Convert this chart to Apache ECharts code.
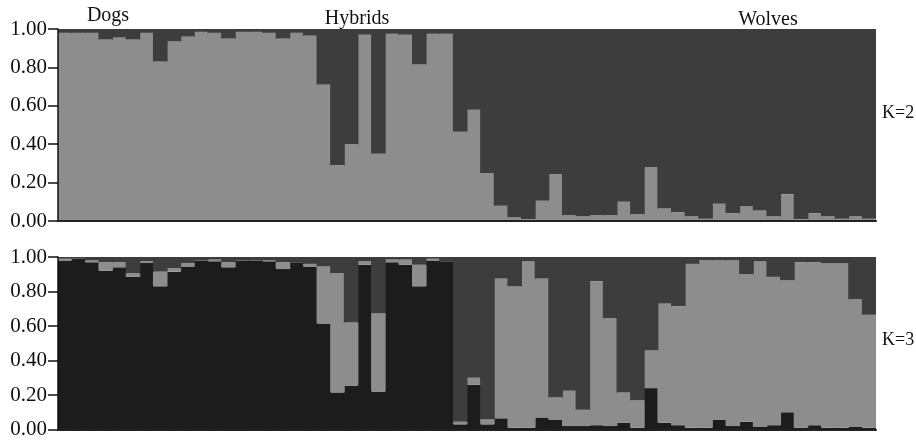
<!DOCTYPE html>
<html>
<head>
<meta charset="utf-8">
<script src="https://cdn.jsdelivr.net/npm/echarts@6/dist/echarts.min.js"></script>
<style>
  html, body { margin: 0; padding: 0; background: #fff; }
  #chart { width: 916px; height: 440px; }
</style>
</head>
<body>
<div id="chart"></div>
<script>
// individuals, left to right (dogs, hybrids, wolves)
const individuals = Array.from({ length: 60 }, (_, i) => 'ind' + (i + 1))

// K=2 : dog cluster (light grey, bottom) and wolf cluster (dark grey, top)
const k2Dog = [
  0.98, 0.98, 0.98, 0.945, 0.955, 0.945, 0.98, 0.83, 0.935, 0.96,
  0.985, 0.98, 0.95, 0.985, 0.985, 0.98, 0.95, 0.98, 0.965, 0.71,
  0.29, 0.40, 0.97, 0.35, 0.975, 0.97, 0.815, 0.975, 0.975, 0.465,
  0.58, 0.25, 0.08, 0.02, 0.01, 0.105, 0.245, 0.03, 0.025, 0.03,
  0.03, 0.10, 0.035, 0.28, 0.065, 0.045, 0.025, 0.012, 0.09, 0.04,
  0.075, 0.055, 0.025, 0.14, 0.01, 0.04, 0.025, 0.012, 0.025, 0.012
]
const k2Wolf = [
  0.02, 0.02, 0.02, 0.055, 0.045, 0.055, 0.02, 0.17, 0.065, 0.04,
  0.015, 0.02, 0.05, 0.015, 0.015, 0.02, 0.05, 0.02, 0.035, 0.29,
  0.71, 0.60, 0.03, 0.65, 0.025, 0.03, 0.185, 0.025, 0.025, 0.535,
  0.42, 0.75, 0.92, 0.98, 0.99, 0.895, 0.755, 0.97, 0.975, 0.97,
  0.97, 0.90, 0.965, 0.72, 0.935, 0.955, 0.975, 0.988, 0.91, 0.96,
  0.925, 0.945, 0.975, 0.86, 0.99, 0.96, 0.975, 0.988, 0.975, 0.988
]

// K=3 : cluster 1 (black, bottom), cluster 2 (light grey), cluster 3 (dark grey, top)
const k3Black = [
  0.98, 0.99, 0.97, 0.92, 0.94, 0.885, 0.965, 0.83, 0.915, 0.945,
  0.98, 0.975, 0.94, 0.98, 0.98, 0.975, 0.93, 0.97, 0.945, 0.615,
  0.215, 0.255, 0.955, 0.22, 0.97, 0.955, 0.83, 0.98, 0.975, 0.03,
  0.26, 0.03, 0.065, 0.01, 0.01, 0.07, 0.055, 0.02, 0.02, 0.025,
  0.02, 0.04, 0.01, 0.24, 0.04, 0.025, 0.01, 0.01, 0.055, 0.02,
  0.045, 0.015, 0.025, 0.10, 0.01, 0.025, 0.01, 0.01, 0.015, 0.01
]
const k3Light = [
  0.01, 0.00, 0.01, 0.05, 0.03, 0.02, 0.01, 0.085, 0.02, 0.02,
  0.00, 0.01, 0.03, 0.00, 0.00, 0.005, 0.04, 0.00, 0.015, 0.33,
  0.69, 0.365, 0.02, 0.455, 0.015, 0.03, 0.125, 0.01, 0.00, 0.015,
  0.04, 0.03, 0.81, 0.82, 0.965, 0.805, 0.13, 0.205, 0.095, 0.835,
  0.625, 0.175, 0.16, 0.22, 0.69, 0.69, 0.95, 0.97, 0.925, 0.96,
  0.855, 0.96, 0.86, 0.765, 0.96, 0.945, 0.955, 0.955, 0.74, 0.655
]
const k3Dark = [
  0.01, 0.01, 0.02, 0.03, 0.03, 0.095, 0.025, 0.085, 0.065, 0.035,
  0.02, 0.015, 0.03, 0.02, 0.02, 0.02, 0.03, 0.03, 0.04, 0.055,
  0.095, 0.38, 0.025, 0.325, 0.015, 0.015, 0.045, 0.01, 0.025, 0.955,
  0.70, 0.94, 0.125, 0.17, 0.025, 0.125, 0.815, 0.775, 0.885, 0.14,
  0.355, 0.785, 0.83, 0.54, 0.27, 0.285, 0.04, 0.02, 0.02, 0.02,
  0.10, 0.025, 0.115, 0.135, 0.03, 0.03, 0.035, 0.035, 0.245, 0.335
]

const yTicks = [0, 0.2, 0.4, 0.6, 0.8, 1]

const LIGHT = '#8d8d8d'
const DARK = '#3d3d3d'
const BLACK = '#1c1c1c'
const FONT = 'Liberation Serif'

const myChart = echarts.init(document.getElementById('chart'))

function yAxis(gridIndex) {
  return {
    type: 'value',
    gridIndex: gridIndex,
    min: yTicks[0],
    max: yTicks[yTicks.length - 1],
    interval: 0.2,
    axisLine: { show: true, lineStyle: { color: '#111', width: 1.5 } },
    axisTick: { show: true, length: 10, lineStyle: { color: '#111', width: 1.5 } },
    axisLabel: {
      margin: 11,
      color: '#111',
      fontFamily: FONT,
      fontSize: 21,
      formatter: v => v.toFixed(2)
    },
    splitLine: { show: false },
    z: 5
  }
}

function xAxis(gridIndex) {
  return {
    type: 'category',
    gridIndex: gridIndex,
    data: individuals,
    axisLine: { show: true, lineStyle: { color: '#222', width: 2 } },
    axisTick: { show: false },
    axisLabel: { show: false },
    z: 5
  }
}

// bars a bit wider than their slot so neighbours overlap and leave no seams
function bar(name, data, color, axisIndex, stack) {
  return {
    name: name,
    type: 'bar',
    stack: stack,
    xAxisIndex: axisIndex,
    yAxisIndex: axisIndex,
    data: data,
    barWidth: 14.6,
    itemStyle: { color: color },
    emphasis: { disabled: true }
  }
}

function label(text, x, y, size, align) {
  return {
    type: 'text',
    x: x,
    y: y,
    style: {
      text: text,
      fill: '#111',
      fontFamily: FONT,
      fontSize: size,
      textAlign: align,
      textVerticalAlign: 'middle'
    }
  }
}

myChart.setOption({
  animation: false,
  textStyle: { fontFamily: FONT },
  grid: [
    { left: 58, right: 40, top: 29, bottom: 219 },
    { left: 58, right: 40, top: 257, bottom: 7 }
  ],
  xAxis: [xAxis(0), xAxis(1)],
  yAxis: [yAxis(0), yAxis(1)],
  series: [
    bar('Dog', k2Dog, LIGHT, 0, 'k2'),
    bar('Wolf', k2Wolf, DARK, 0, 'k2'),
    bar('Cluster 1', k3Black, BLACK, 1, 'k3'),
    bar('Cluster 2', k3Light, LIGHT, 1, 'k3'),
    bar('Cluster 3', k3Dark, DARK, 1, 'k3')
  ],
  graphic: [
    label('Dogs', 108, 16, 20, 'center'),
    label('Hybrids', 357, 19, 20, 'center'),
    label('Wolves', 768, 20, 20, 'center'),
    label('K=2', 882, 113, 18, 'left'),
    label('K=3', 882, 340, 18, 'left')
  ]
})
</script>
</body>
</html>
